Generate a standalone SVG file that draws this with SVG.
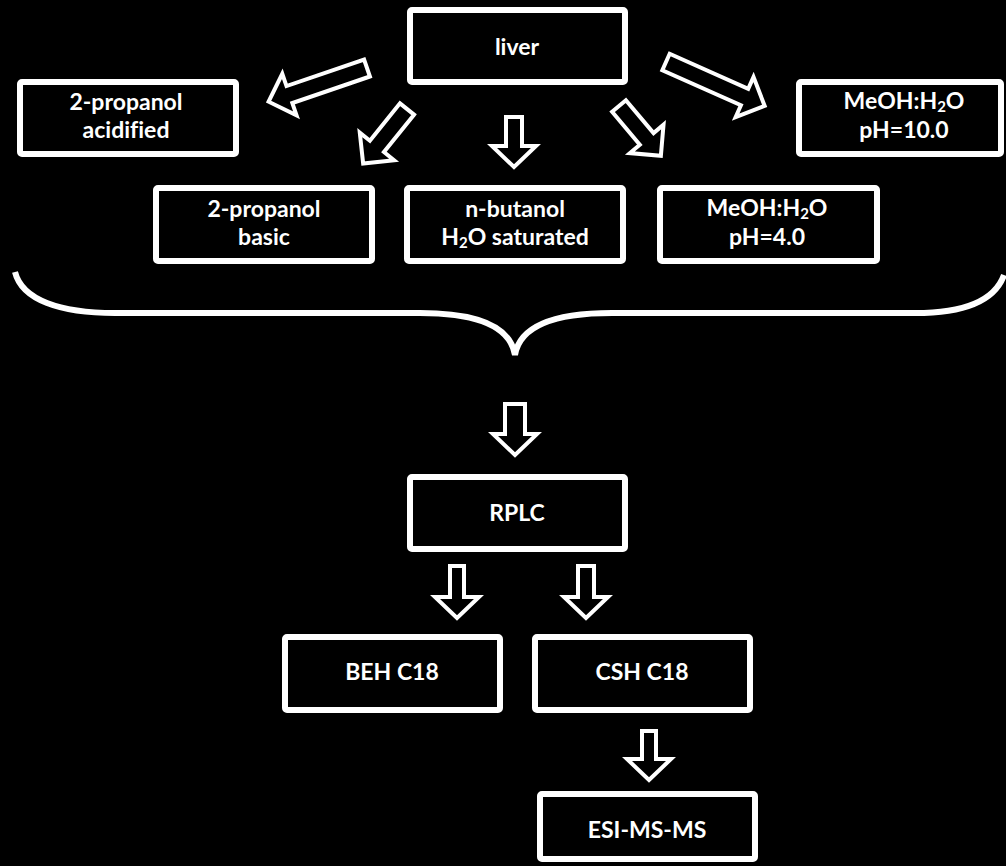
<svg xmlns="http://www.w3.org/2000/svg" width="1006" height="866" viewBox="0 0 1006 866">
<style>
.box{fill:#000;stroke:#fff;stroke-width:6;stroke-linejoin:round}
.t{fill:#fff;font-family:Lato,"Open Sans","Liberation Sans",sans-serif;font-weight:bold;font-size:23px;text-anchor:middle;font-variant-ligatures:none}
.arr{fill:#000;stroke:#fff;stroke-width:4;stroke-linejoin:miter}
.brace{fill:none;stroke:#fff;stroke-width:6;stroke-linecap:butt}
.sub{font-size:15px}
</style>
<rect width="1006" height="866" fill="#000"/>
<g id="connectors">
<polygon class="arr" transform="translate(367,68) rotate(161.1)" points="0,-9 82,-9 82,-22 104,0 82,22 82,9 0,9"/>
<polygon class="arr" transform="translate(407,109) rotate(128.8)" points="0,-9 48,-9 48,-22 70,0 48,22 48,9 0,9"/>
<polygon class="arr" transform="translate(514,117) rotate(90)" points="0,-8 29,-8 29,-22 50,0 29,22 29,8 0,8"/>
<polygon class="arr" transform="translate(619,106) rotate(49.9)" points="0,-9 43,-9 43,-22 65,0 43,22 43,9 0,9"/>
<polygon class="arr" transform="translate(666,62) rotate(24)" points="0,-9 86,-9 86,-22 108,0 86,22 86,9 0,9"/>
<path class="brace" d="M 15,272 C 22,300 60,313 115,313 L 420,313 C 475,313 510,325 515,355 C 520,325 555,313 612,313 L 915,313 C 965,313 995,300 1004,275"/>
<polygon class="arr" transform="translate(515,404) rotate(90)" points="0,-10 30,-10 30,-22 51,0 30,22 30,10 0,10"/>
<polygon class="arr" transform="translate(457,566) rotate(90)" points="0,-7 31,-7 31,-22 52,0 31,22 31,7 0,7"/>
<polygon class="arr" transform="translate(586,566) rotate(90)" points="0,-8 31,-8 31,-22 52,0 31,22 31,8 0,8"/>
<polygon class="arr" transform="translate(649,731) rotate(90)" points="0,-7 28,-7 28,-22 49,0 28,22 28,7 0,7"/>
</g>
<g id="liver">
<rect class="box" x="410" y="10" width="215" height="72" rx="2"/>
<text class="t" x="517" y="55">liver</text>
</g>
<g id="propanol-acidified">
<rect class="box" x="20" y="82" width="216" height="72" rx="2"/>
<text class="t" x="126" y="110">2-propanol</text>
<text class="t" x="126" y="138">acidified</text>
</g>
<g id="propanol-basic">
<rect class="box" x="156" y="188" width="216" height="73" rx="2"/>
<text class="t" x="264" y="217">2-propanol</text>
<text class="t" x="264" y="245">basic</text>
</g>
<g id="n-butanol">
<rect class="box" x="407" y="188" width="216" height="73" rx="2"/>
<text class="t" x="515" y="217">n-butanol</text>
<text class="t" x="515" y="245">H<tspan class="sub" dy="3">2</tspan><tspan dy="-3">O saturated</tspan></text>
</g>
<g id="meoh-ph4">
<rect class="box" x="660" y="188" width="217" height="73" rx="2"/>
<text class="t" x="767" y="216">MeOH:H<tspan class="sub" dy="3">2</tspan><tspan dy="-3">O</tspan></text>
<text class="t" x="767" y="245">pH=4.0</text>
</g>
<g id="meoh-ph10">
<rect class="box" x="799" y="82" width="202" height="72" rx="2"/>
<text class="t" x="904" y="109">MeOH:H<tspan class="sub" dy="3">2</tspan><tspan dy="-3">O</tspan></text>
<text class="t" x="904" y="138">pH=10.0</text>
</g>
<g id="rplc">
<rect class="box" x="410" y="477" width="215" height="72" rx="2"/>
<text class="t" x="517" y="521">RPLC</text>
</g>
<g id="beh-c18">
<rect class="box" x="285" y="637" width="215" height="73" rx="2"/>
<text class="t" x="392" y="680">BEH C18</text>
</g>
<g id="csh-c18">
<rect class="box" x="535" y="637" width="215" height="73" rx="2"/>
<text class="t" x="642" y="680">CSH C18</text>
</g>
<g id="esi-ms-ms">
<rect class="box" x="540" y="794" width="215" height="65" rx="2"/>
<text class="t" x="647" y="838">ESI-MS-MS</text>
</g>
</svg>
